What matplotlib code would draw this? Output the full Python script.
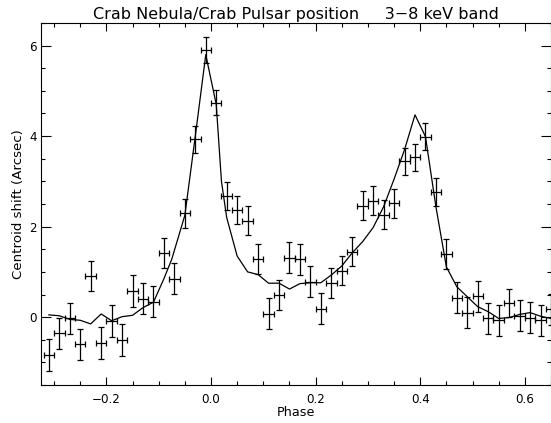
import matplotlib
matplotlib.use("Agg")
import matplotlib.pyplot as plt
import numpy as np
from matplotlib.ticker import MultipleLocator

phase = [-0.31, -0.29, -0.27, -0.25, -0.23, -0.21, -0.19, -0.17, -0.15, -0.13,
         -0.11, -0.09, -0.07, -0.05, -0.03, -0.01, 0.01, 0.03, 0.05, 0.07,
         0.09, 0.11, 0.13, 0.15, 0.17, 0.19, 0.21, 0.23, 0.25, 0.27,
         0.29, 0.31, 0.33, 0.35, 0.37, 0.39, 0.41, 0.43, 0.45, 0.47,
         0.49, 0.51, 0.53, 0.55, 0.57, 0.59, 0.61, 0.63, 0.65]
shift = [-0.84, -0.36, -0.03, -0.60, 0.91, -0.57, -0.08, -0.51, 0.58, 0.41,
         0.34, 1.41, 0.85, 2.30, 3.93, 5.90, 4.74, 2.68, 2.37, 2.13,
         1.28, 0.08, 0.49, 1.31, 1.28, 0.78, 0.19, 0.76, 1.03, 1.45,
         2.46, 2.57, 2.26, 2.52, 3.44, 3.53, 3.99, 2.77, 1.39, 0.43,
         0.10, 0.46, -0.03, -0.07, 0.32, 0.03, -0.01, -0.07, 0.17]
shift_err = [0.36, 0.34, 0.35, 0.34, 0.34, 0.35, 0.35, 0.35, 0.35, 0.34,
             0.34, 0.33, 0.34, 0.32, 0.30, 0.28, 0.28, 0.31, 0.31, 0.32,
             0.33, 0.34, 0.33, 0.34, 0.34, 0.34, 0.34, 0.33, 0.33, 0.33,
             0.32, 0.32, 0.32, 0.32, 0.30, 0.30, 0.30, 0.31, 0.33, 0.34,
             0.34, 0.34, 0.34, 0.34, 0.31, 0.34, 0.34, 0.34, 0.34]
phase_err = 0.01

model_phase = [-0.31, -0.29, -0.27, -0.25, -0.23, -0.21, -0.19, -0.17, -0.15, -0.13,
               -0.11, -0.09, -0.075, -0.05, -0.03, -0.01, 0.01, 0.02, 0.03, 0.05,
               0.07, 0.09, 0.11, 0.13, 0.15, 0.17, 0.19, 0.21, 0.23, 0.25,
               0.27, 0.29, 0.31, 0.33, 0.35, 0.37, 0.39, 0.41, 0.43, 0.45,
               0.47, 0.49, 0.51, 0.53, 0.55, 0.57, 0.59, 0.61, 0.63, 0.65]
model_shift = [0.05, 0.03, -0.05, -0.07, -0.15, 0.07, -0.08, 0.01, 0.04, 0.21,
               0.33, 0.85, 1.28, 2.25, 4.0, 5.8, 4.7, 3.0, 2.2, 1.35,
               1.0, 0.94, 0.75, 0.75, 0.62, 0.74, 0.76, 0.76, 0.93, 1.13,
               1.42, 1.67, 1.98, 2.44, 3.05, 3.70, 4.47, 3.99, 2.44, 1.11,
               0.67, 0.45, 0.23, 0.12, -0.03, -0.01, 0.06, 0.10, 0.02, -0.03]

title = "Crab Nebula/Crab Pulsar position     3\u22128 keV band"

plt.rcParams['font.family'] = ['DejaVu Sans']
fig = plt.figure(figsize=(5.51, 4.23), dpi=100)
ax = fig.add_axes([41/551, (423-385)/423, 510/551, (385-23)/423])

ax.plot(model_phase, model_shift, color='black', lw=0.9)
ax.errorbar(phase, shift, xerr=phase_err, yerr=shift_err, fmt='none',
            ecolor='black', elinewidth=0.9, capsize=2.0, capthick=0.9)

ax.set_xlim(-0.325, 0.65)
ax.set_ylim(-1.5, 6.5)
ax.xaxis.set_major_locator(MultipleLocator(0.2))
ax.xaxis.set_minor_locator(MultipleLocator(0.05))
ax.yaxis.set_major_locator(MultipleLocator(2))
ax.yaxis.set_minor_locator(MultipleLocator(0.5))
ax.tick_params(which='both', direction='in', top=True, right=True, width=0.8, labelsize=8.6)
ax.tick_params(axis='x', which='major', length=5.5, pad=6)
ax.tick_params(axis='y', which='major', length=7, pad=3)
ax.tick_params(which='minor', length=2.8)
for s in ax.spines.values():
    s.set_linewidth(0.8)

ax.set_xlabel("Phase", fontsize=9.2, labelpad=0)
ax.set_ylabel("Centroid shift (Arcsec)", fontsize=9.6, labelpad=3)
ax.set_title(title, fontsize=11.5, pad=3)

fig.savefig("out.png", dpi=100)
